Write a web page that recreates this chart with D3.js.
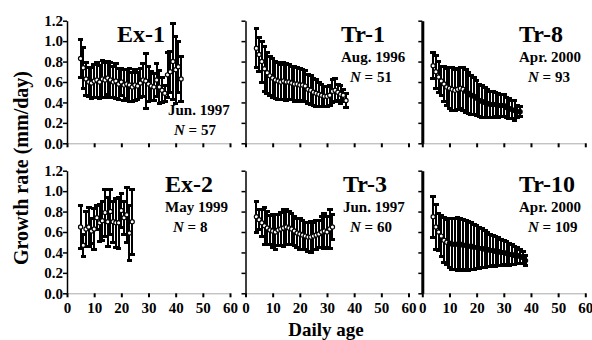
<!DOCTYPE html>
<html>
<head>
<meta charset="utf-8">
<script src="https://cdn.jsdelivr.net/npm/d3@7"></script>
<style>
  body { margin: 0; background: #fff; }
  svg { display: block; font-family: "Liberation Serif", "Times New Roman", serif; font-weight: bold; }
</style>
</head>
<body>
<svg id="chart" width="592" height="340"></svg>
<script>
// tick values
let xTicks = [0, 10, 20, 30, 40, 50, 60];
let yTicks = [0, 0.2, 0.4, 0.6, 0.8, 1.0, 1.2];

// Ex-1, from day 5
let ex1Mean = [0.83,0.74,0.63,0.60,0.59,0.61,0.62,0.60,0.63,0.62,0.64,0.62,0.60,0.61,0.58,0.60,0.57,0.58,0.57,0.55,0.57,0.56,0.59,0.62,0.61,0.58,0.56,0.55,0.62,0.55,0.52,0.49,0.67,0.70,0.80,0.72,0.75,0.63];
let ex1Sd   = [0.19,0.20,0.16,0.14,0.15,0.16,0.17,0.16,0.18,0.17,0.16,0.17,0.15,0.17,0.15,0.13,0.15,0.14,0.16,0.14,0.15,0.13,0.14,0.16,0.27,0.17,0.14,0.13,0.16,0.16,0.12,0.08,0.22,0.20,0.37,0.33,0.25,0.22];

// Tr-1, from day 4
let tr1Mean = [0.93,0.87,0.80,0.73,0.69,0.66,0.64,0.62,0.61,0.60,0.61,0.60,0.60,0.59,0.58,0.58,0.57,0.57,0.56,0.53,0.52,0.50,0.49,0.48,0.47,0.46,0.46,0.47,0.51,0.52,0.50,0.48,0.47,0.42];
let tr1Sd   = [0.19,0.17,0.20,0.22,0.20,0.19,0.19,0.18,0.18,0.17,0.18,0.18,0.17,0.16,0.17,0.16,0.16,0.15,0.15,0.14,0.14,0.13,0.13,0.12,0.11,0.10,0.10,0.10,0.11,0.11,0.08,0.09,0.06,0.07];

// Tr-8, from day 4
let tr8Mean = [0.76,0.70,0.65,0.61,0.58,0.55,0.54,0.53,0.52,0.53,0.54,0.53,0.51,0.49,0.47,0.46,0.44,0.42,0.41,0.40,0.39,0.38,0.38,0.38,0.37,0.37,0.37,0.35,0.34,0.33,0.32,0.31,0.31];
let tr8Sd   = [0.13,0.16,0.15,0.14,0.17,0.18,0.20,0.21,0.20,0.20,0.20,0.21,0.21,0.20,0.19,0.18,0.17,0.16,0.16,0.15,0.14,0.13,0.13,0.12,0.12,0.11,0.11,0.10,0.10,0.09,0.10,0.06,0.05];

// Ex-2, from day 5
let ex2Mean = [0.65,0.47,0.63,0.65,0.61,0.63,0.74,0.69,0.71,0.79,0.70,0.80,0.70,0.69,0.69,0.81,0.74,0.77,0.59,0.70];
let ex2Sd   = [0.21,0.11,0.17,0.19,0.12,0.20,0.12,0.18,0.19,0.23,0.24,0.22,0.20,0.24,0.25,0.17,0.16,0.27,0.27,0.32];

// Tr-3, from day 4
let tr3Mean = [0.75,0.72,0.69,0.66,0.64,0.62,0.61,0.60,0.62,0.63,0.64,0.65,0.64,0.63,0.61,0.59,0.58,0.57,0.56,0.55,0.55,0.56,0.57,0.58,0.60,0.61,0.60,0.63,0.65];
let tr3Sd   = [0.15,0.10,0.13,0.18,0.16,0.14,0.16,0.17,0.15,0.16,0.18,0.17,0.16,0.15,0.14,0.14,0.15,0.14,0.13,0.14,0.15,0.13,0.14,0.13,0.15,0.17,0.15,0.19,0.12];

// Tr-10, from day 4
let tr10Mean = [0.75,0.65,0.60,0.56,0.52,0.50,0.49,0.48,0.48,0.48,0.48,0.47,0.47,0.46,0.46,0.45,0.45,0.44,0.44,0.43,0.43,0.42,0.42,0.41,0.41,0.40,0.40,0.39,0.38,0.38,0.37,0.37,0.36,0.35,0.32];
let tr10Sd   = [0.20,0.22,0.18,0.20,0.22,0.22,0.24,0.25,0.25,0.26,0.25,0.25,0.24,0.24,0.23,0.22,0.21,0.20,0.19,0.18,0.17,0.16,0.15,0.15,0.14,0.13,0.12,0.12,0.11,0.10,0.09,0.08,0.07,0.06,0.05];

let panels = [
  {name:"Ex-1", date:"Jun. 1997", n:"57", start:5, mean:ex1Mean, sd:ex1Sd, col:0, row:0, openTo:99},
  {name:"Tr-1", date:"Aug. 1996", n:"51", start:4, mean:tr1Mean, sd:tr1Sd, col:1, row:0, openTo:99},
  {name:"Tr-8", date:"Apr. 2000", n:"93", start:4, mean:tr8Mean, sd:tr8Sd, col:2, row:0, openTo:15},
  {name:"Ex-2", date:"May 1999", n:"8", start:5, mean:ex2Mean, sd:ex2Sd, col:0, row:1, openTo:99},
  {name:"Tr-3", date:"Jun. 1997", n:"60", start:4, mean:tr3Mean, sd:tr3Sd, col:1, row:1, openTo:99},
  {name:"Tr-10", date:"Apr. 2000", n:"109", start:4, mean:tr10Mean, sd:tr10Sd, col:2, row:1, openTo:9}
];

let svg = d3.select("#chart");
let colX = [67, 245.5, 422.3];
let rowY = [20.7, 170.7];
let pw = 163, ph = 122.6;

// label placement per panel (title x, title y, date x, date y, N x, N y)
let labelPos = {
  "Ex-1": [117, 42, 168, 115, 174, 135],
  "Tr-1": [341, 42, 341, 62, 350, 82],
  "Tr-8": [519, 42, 519, 62, 528, 82],
  "Ex-2": [165, 192, 165, 212, 173, 232],
  "Tr-3": [343, 192, 343, 212, 350, 232],
  "Tr-10": [519, 192, 519, 212, 528, 232]
};

panels.forEach(function(p){
  let g = svg.append("g")
             .attr("transform", `translate(${colX[p.col]},${rowY[p.row]})`);

  let x = d3.scaleLinear().domain([0, 60]).range([0, pw]);
  let y = d3.scaleLinear().domain([0, 1.2]).range([ph, 0]);

  // x axis
  let xa = g.append("g")
            .attr("transform", `translate(0,${ph})`)
            .call(d3.axisBottom(x).tickValues(xTicks).tickSize(4).tickSizeOuter(0)
                    .tickFormat(p.row == 1 ? d3.format("d") : ""));
  xa.select(".domain").attr("stroke", "#aaa").attr("stroke-width", 1);
  xa.selectAll(".tick line").attr("stroke", "#000").attr("stroke-width", 2);
  xa.selectAll(".tick text")
    .attr("dy", "0.85em")
    .style("font-size", "15px")
    .style("font-family", "Liberation Serif")
    .style("font-weight", "bold")
    .attr("fill", "#000");

  // y axis
  let ya = g.append("g")
            .call(d3.axisLeft(y).tickValues(yTicks).tickSize(4).tickSizeOuter(0)
                    .tickFormat(p.col == 0 ? d3.format(".1f") : ""));
  ya.select(".domain").attr("stroke", "#000").attr("stroke-width", p.col == 2 ? 3 : 1.5);
  ya.selectAll(".tick line").attr("stroke", "#000").attr("stroke-width", 1.5);
  ya.selectAll(".tick text")
    .attr("x", -4)
    .style("font-size", "15px")
    .style("font-family", "Liberation Serif")
    .style("font-weight", "bold")
    .attr("fill", "#000");

  let pts = p.mean.map(function(m, i){
    return {day: p.start + i, mean: m, sd: p.sd[i]};
  });

  // error bars
  let bars = g.append("g").attr("shape-rendering", "crispEdges")
              .selectAll("g")
              .data(pts)
              .enter().append("g");
  bars.append("line")
      .attr("x1", d => x(d.day)).attr("x2", d => x(d.day))
      .attr("y1", d => y(d.mean + d.sd)).attr("y2", d => y(Math.max(0, d.mean - d.sd)))
      .attr("stroke", "#000").attr("stroke-width", 2);
  bars.append("line")
      .attr("x1", d => x(d.day) - 2.8).attr("x2", d => x(d.day) + 2.8)
      .attr("y1", d => y(d.mean + d.sd)).attr("y2", d => y(d.mean + d.sd))
      .attr("stroke", "#000").attr("stroke-width", 3);
  bars.append("line")
      .attr("x1", d => x(d.day) - 2.8).attr("x2", d => x(d.day) + 2.8)
      .attr("y1", d => y(Math.max(0, d.mean - d.sd))).attr("y2", d => y(Math.max(0, d.mean - d.sd)))
      .attr("stroke", "#000").attr("stroke-width", 3);

  // markers
  g.append("g").selectAll("circle")
   .data(pts)
   .enter().append("circle")
   .attr("cx", d => x(d.day))
   .attr("cy", d => y(d.mean))
   .attr("r", 2.1)
   .attr("fill", d => d.day <= p.openTo ? "#fff" : "#000")
   .attr("stroke", "#000")
   .attr("stroke-width", 1.2);

  // labels
  let lp = labelPos[p.name];
  svg.append("text").attr("x", lp[0]).attr("y", lp[1])
     .style("font-size", "24px").text(p.name);
  svg.append("text").attr("x", lp[2]).attr("y", lp[3])
     .style("font-size", "15px").text(p.date);
  let nt = svg.append("text").attr("x", lp[4]).attr("y", lp[5])
              .style("font-size", "15px");
  nt.append("tspan").style("font-style", "italic").text("N");
  nt.append("tspan").text(" = " + p.n);
});

// axis titles
svg.append("text")
   .attr("transform", "translate(28,168) rotate(-90)")
   .attr("text-anchor", "middle")
   .style("font-size", "20px")
   .text("Growth rate (mm/day)");

svg.append("text")
   .attr("x", 326).attr("y", 336)
   .attr("text-anchor", "middle")
   .style("font-size", "19px")
   .text("Daily age");
</script>
</body>
</html>
